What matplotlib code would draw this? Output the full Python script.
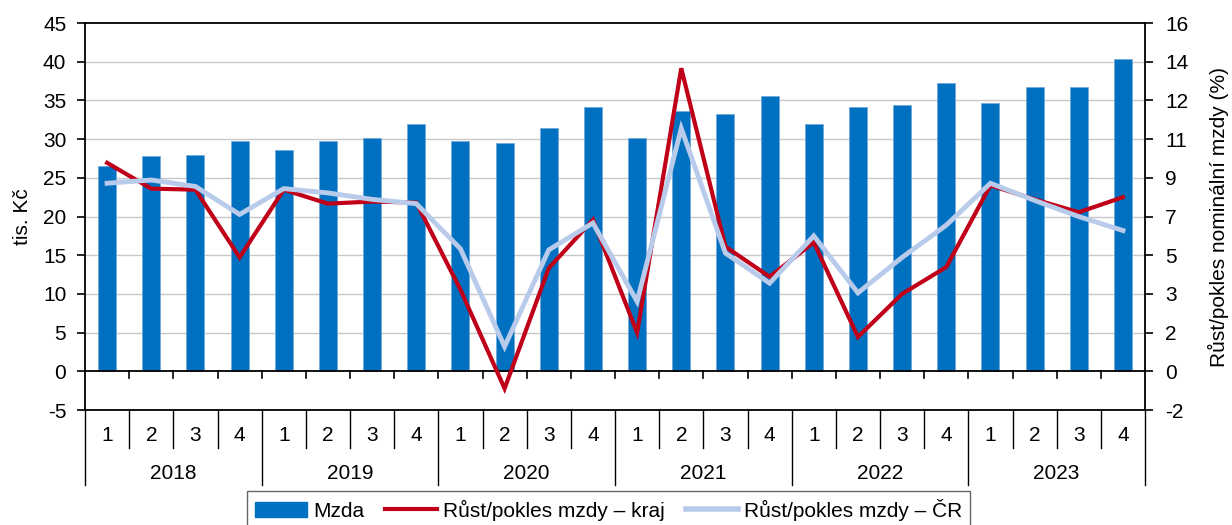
import matplotlib
matplotlib.use('Agg')
import matplotlib.pyplot as plt
import matplotlib.transforms as mtransforms
from matplotlib.patches import Patch
from matplotlib.lines import Line2D

# data
years = ['2018', '2019', '2020', '2021', '2022', '2023']
quarters = ['1', '2', '3', '4']
mzda = [26.5, 27.8, 28.0, 29.7, 28.6, 29.8, 30.1, 32.0,
        29.7, 29.5, 31.5, 34.2, 30.2, 33.6, 33.3, 35.6,
        31.9, 34.1, 34.4, 37.3, 34.7, 36.8, 36.8, 40.3]
rust_kraj = [9.5, 8.3, 8.25, 5.1, 8.25, 7.6, 7.7, 7.65,
             3.6, -1.0, 4.6, 6.85, 1.6, 13.9, 5.6, 4.2,
             5.8, 1.4, 3.4, 4.65, 8.45, 7.8, 7.2, 7.9]
rust_cr = [8.55, 8.7, 8.4, 7.1, 8.3, 8.1, 7.8, 7.6,
           5.5, 0.95, 5.45, 6.7, 3.05, 11.1, 5.3, 3.9,
           6.1, 3.45, 5.1, 6.6, 8.55, 7.75, 7.0, 6.35]
labels = ['Mzda', 'Růst/pokles mzdy – kraj', 'Růst/pokles mzdy – ČR']

blue = '#0070C0'
red = '#C00018'
light = '#B9CBEA'
fs = 15

plt.rcParams['font.family'] = ['Liberation Sans', 'DejaVu Sans']
plt.rcParams['axes.unicode_minus'] = False

fig = plt.figure(figsize=(12.32, 5.25), dpi=100)
ax = fig.add_axes([0.069, 0.219, 0.8604, 0.737])

x = list(range(len(mzda)))
ax.bar(x, mzda, width=0.41, color=blue, edgecolor='#6FA8DC', linewidth=0.5, zorder=2)
ax.set_xlim(-0.5, len(mzda) - 0.5)
ax.set_ylim(-5, 45)
ax.set_yticks(range(-5, 50, 5))

# gridlines
for v in range(5, 45, 5):
    ax.axhline(v, color='#C8C8C8', lw=1.0, zorder=0)
ax.axhline(0, color='black', lw=1.3, zorder=3)
for k in range(1, len(mzda)):
    ax.plot([k - 0.5, k - 0.5], [0, -0.85], color='black', lw=1.2, zorder=3)

for s in ax.spines.values():
    s.set_color('black')
    s.set_linewidth(1.3)
ax.set_xticks([])
ax.tick_params(axis='y', direction='out', length=5.5, width=1.2, labelsize=fs, pad=8)
ax.set_ylabel('tis. Kč', fontsize=fs, labelpad=8)

# category axis below the plot
trans = mtransforms.blended_transform_factory(ax.transData, ax.transAxes)
for k in range(len(mzda) + 1):
    y_end = -0.195 if k % 4 == 0 else -0.098
    ax.plot([k - 0.5, k - 0.5], [0, y_end], transform=trans, clip_on=False,
            color='black', lw=1.0)
for i in x:
    ax.text(i, -0.067, quarters[i % 4], transform=trans, ha='center', va='center', fontsize=fs)
for j, yr in enumerate(years):
    ax.text(4 * j + 1.5, -0.163, yr, transform=trans, ha='center', va='center', fontsize=fs)

# growth lines on right axis
ax2 = ax.twinx()
ax2.set_ylim(-2, 16)
rticks = [-2 + 1.8 * k for k in range(11)]
ax2.set_yticks(rticks)
ax2.set_yticklabels([str(round(v)) for v in rticks])
ax2.tick_params(axis='y', direction='out', length=5.5, width=1.2, labelsize=fs, pad=9)
for s in ax2.spines.values():
    s.set_visible(False)
ax2.plot(x, rust_kraj, color=red, lw=3.0, zorder=3, solid_joinstyle='miter')
ax2.plot(x, rust_cr, color=light, lw=3.5, zorder=4, solid_joinstyle='miter')
ax2.set_ylabel('Růst/pokles nominální mzdy (%)', fontsize=fs, labelpad=14)

handles = [Patch(facecolor=blue, edgecolor=blue),
           Line2D([], [], color=red, lw=3),
           Line2D([], [], color=light, lw=4)]
leg = fig.legend(handles, labels, loc='upper center', bbox_to_anchor=(0.494, 0.064),
                 borderaxespad=0, ncol=3, frameon=True, fancybox=False, edgecolor='#404040',
                 fontsize=fs, handlelength=2.5, handleheight=0.7, columnspacing=1.0,
                 handletextpad=0.3, borderpad=0.35)
leg.get_frame().set_linewidth(1.0)

fig.savefig('out.png', dpi=100)
